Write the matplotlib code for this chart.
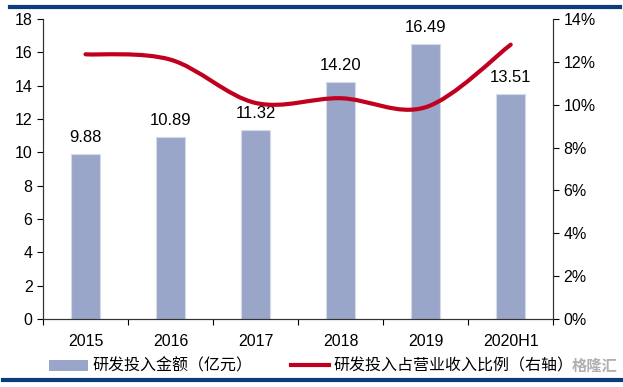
import matplotlib
matplotlib.use('Agg')
import matplotlib.pyplot as plt
from matplotlib.path import Path
from matplotlib.patches import PathPatch, Patch
from matplotlib.lines import Line2D
import matplotlib.ticker as mticker
import numpy as np

plt.rcParams['font.family'] = ['Liberation Sans', 'Noto Sans CJK SC', 'DejaVu Sans']

# ── Data ──────────────────────────────────────────────────────────
years = ['2015', '2016', '2017', '2018', '2019', '2020H1']
rd_amount = [9.88, 10.89, 11.32, 14.20, 16.49, 13.51]        # 亿元
rd_ratio = [12.35, 12.10, 10.08, 10.30, 9.88, 12.80]          # %
amount_labels = ['9.88', '10.89', '11.32', '14.20', '16.49', '13.51']

C_BAR = '#9AA6C9'
C_LINE = '#C0001E'
C_NAVY = '#0B3C7E'


def smooth_path(xs, ys, t=0.5):
    # Catmull-Rom style bezier control points (like Excel's smoothed line)
    pts = np.column_stack([xs, ys]).astype(float)
    n = len(pts)
    verts = [pts[0]]
    codes = [Path.MOVETO]
    for i in range(n - 1):
        p0 = pts[max(i - 1, 0)]
        p1 = pts[i]
        p2 = pts[i + 1]
        p3 = pts[min(i + 2, n - 1)]
        c1 = p1 + (p2 - p0) * t / 3
        c2 = p2 - (p3 - p1) * t / 3
        verts += [c1, c2, p2]
        codes += [Path.CURVE4] * 3
    return Path(verts, codes)


fig = plt.figure(figsize=(6.23, 3.87), dpi=100)
ax = fig.add_axes([0.069, 0.176, 0.819, 0.775])
ax2 = ax.twinx()

x = np.arange(len(years))
ax.bar(x, rd_amount, width=0.34, color=C_BAR, edgecolor='#D5DAEA', linewidth=0.8, zorder=2)
for xi, v, lab in zip(x, rd_amount, amount_labels):
    ax.text(xi, v + 0.55, lab, ha='center', va='bottom', fontsize=12, color='black')

ax.set_xlim(-0.5, len(years) - 0.5)
ax.set_ylim(0, 18)
ax.set_yticks(np.arange(0, 19, 2))
ax.set_xticks(np.arange(-0.5, len(years), 1.0), minor=False)
ax.set_xticklabels([])
ax.set_xticks(x, minor=True)
ax.set_xticklabels(years, minor=True, fontsize=11.5)
ax.tick_params(axis='x', which='minor', length=0, pad=11)
ax.tick_params(axis='x', which='major', length=4, direction='out', width=0.8)
ax.tick_params(axis='y', labelsize=11.5, length=4, width=0.8)

ax2.set_ylim(0, 14)
ax2.set_yticks(np.arange(0, 15, 2))
ax2.yaxis.set_major_formatter(mticker.FuncFormatter(lambda v, p: '%d%%' % v))
ax2.tick_params(axis='y', labelsize=11.5, length=4, width=0.8)

path = smooth_path(x, rd_ratio)
ax2.add_patch(PathPatch(path, facecolor='none', edgecolor=C_LINE, linewidth=3,
                        capstyle='round', zorder=3))

for a in (ax, ax2):
    a.spines['top'].set_visible(False)
    for s in ('left', 'right', 'bottom'):
        a.spines[s].set_color('#333333')
        a.spines[s].set_linewidth(0.8)

# top and bottom navy rules
fig.add_artist(Line2D([0.016, 0.995], [0.982, 0.982], color=C_NAVY, linewidth=3,
                      transform=fig.transFigure))
fig.add_artist(Line2D([0.005, 0.998], [0.018, 0.018], color=C_NAVY, linewidth=3,
                      transform=fig.transFigure))

handles = [Patch(facecolor=C_BAR, edgecolor='none'),
           Line2D([0], [0], color=C_LINE, linewidth=3)]
labels = ['研发投入金额（亿元）', '研发投入占营业收入比例（右轴）']
fig.legend(handles, labels, loc='center left', bbox_to_anchor=(0.079, 0.054),
           ncol=2, frameon=False, fontsize=11.5, handlelength=2.4,
           columnspacing=2.4, handletextpad=0.3, borderaxespad=0, borderpad=0)

fig.text(0.955, 0.054, '格隆汇', ha='center', va='center', fontsize=11,
         color='#B0B0B0', fontweight='bold',
         bbox=dict(facecolor='white', edgecolor='none', alpha=0.7, pad=1))

fig.savefig('out.png', dpi=100)
